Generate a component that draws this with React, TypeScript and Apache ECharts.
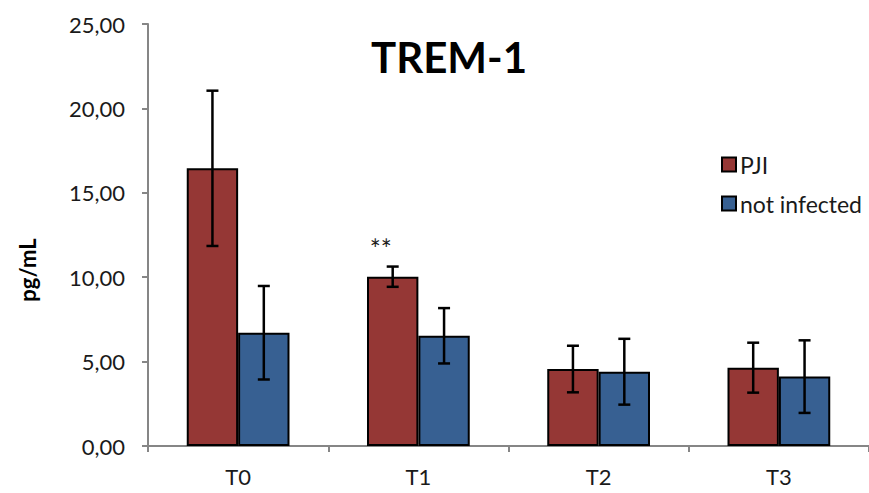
import React, { useEffect, useRef } from "react";
import * as echarts from "echarts";

const categories = ["T0", "T1", "T2", "T3"];
const pjiMean = [16.45, 10.03, 4.56, 4.64];
const pjiSd = [4.6, 0.6, 1.38, 1.48];
const notInfMean = [6.71, 6.53, 4.4, 4.11];
const notInfSd = [2.77, 1.64, 1.95, 2.15];
const significance = ["", "**", "", ""];
const yTicks = [0, 5, 10, 15, 20, 25];

const FONT = "Lato, 'Open Sans', sans-serif";
const RED = "#953735";
const BLUE = "#376092";
const TXT = "#1a1a1a";

export default function App() {
  const ref = useRef<HTMLDivElement>(null);
  useEffect(() => {
    if (!ref.current) return;
    const chart = echarts.init(ref.current, null, { renderer: "svg" });
    const catFrac = 0.43;
    const errData: any[] = [];
    categories.forEach((c, i) => {
      errData.push([i, pjiMean[i], pjiSd[i], 0, significance[i]]);
      errData.push([i, notInfMean[i], notInfSd[i], 1, ""]);
    });
    chart.setOption({
      animation: false,
      title: {
        text: "TREM-1",
        left: 444,
        top: 31,
        textAlign: "center",
        textStyle: { fontFamily: FONT, fontSize: 42, fontWeight: "bold", color: "#000" },
      },
      graphic: [
        {
          type: "text",
          x: 27,
          y: 270,
          rotation: Math.PI / 2,
          style: {
            text: "pg/mL",
            fontFamily: FONT,
            fontSize: 22,
            fontWeight: "bold",
            fill: "#000",
            align: "center",
            verticalAlign: "middle",
          },
        },
      ],
      legend: {
        orient: "vertical",
        left: 716,
        top: 148,
        icon: "rect",
        itemWidth: 14,
        itemHeight: 14,
        itemGap: 16,
        data: ["PJI", "not infected"],
        textStyle: { fontFamily: FONT, fontSize: 23, color: TXT, padding: [0, 0, 0, -1] },
      },
      grid: { left: 148, right: -7, top: 24, bottom: 47, containLabel: false },
      xAxis: {
        type: "category",
        data: categories,
        axisLine: { lineStyle: { color: "#868686", width: 2 } },
        axisTick: { show: true, length: 6, lineStyle: { color: "#868686", width: 2 } },
        axisLabel: { fontFamily: FONT, fontSize: 22, color: TXT, margin: 19 },
      },
      yAxis: {
        type: "value",
        min: yTicks[0],
        max: yTicks[yTicks.length - 1],
        interval: 5,
        axisLine: { show: true, lineStyle: { color: "#868686", width: 2 } },
        axisTick: { show: true, length: 6, lineStyle: { color: "#868686", width: 2 } },
        splitLine: { show: false },
        axisLabel: {
          fontFamily: FONT,
          fontSize: 22,
          color: TXT,
          margin: 23,
          formatter: (v: number) => v.toFixed(2).replace(".", ","),
        },
      },
      series: [
        {
          name: "PJI",
          type: "bar",
          data: pjiMean,
          barGap: "0%",
          barCategoryGap: "43%",
          itemStyle: { color: RED, borderColor: "#000", borderWidth: 2 },
        },
        {
          name: "not infected",
          type: "bar",
          data: notInfMean,
          itemStyle: { color: BLUE, borderColor: "#000", borderWidth: 2 },
        },
        {
          type: "custom",
          data: errData,
          z: 10,
          renderItem: (params: any, api: any) => {
            const idx = api.value(0);
            const mean = api.value(1);
            const sd = api.value(2);
            const s = api.value(3);
            const sig = errData[params.dataIndex][4];
            const band = api.size([1, 0])[0];
            const bw = (band * (1 - catFrac)) / 2;
            const center = api.coord([idx, mean]);
            const x = center[0] + (s === 0 ? -bw / 2 : bw / 2);
            const top = api.coord([idx, mean + sd])[1];
            const bot = api.coord([idx, mean - sd])[1];
            const cap = 6;
            const st = { stroke: "#000", lineWidth: 2.5 };
            const children: any[] = [
              { type: "line", shape: { x1: x, y1: top, x2: x, y2: bot }, style: st },
              { type: "line", shape: { x1: x - cap, y1: top, x2: x + cap, y2: top }, style: st },
              { type: "line", shape: { x1: x - cap, y1: bot, x2: x + cap, y2: bot }, style: st },
            ];
            if (sig) {
              children.push({
                type: "text",
                x: x - 12,
                y: top - 18,
                style: {
                  text: sig,
                  fontFamily: FONT,
                  fontSize: 26,
                  fill: TXT,
                  align: "center",
                  verticalAlign: "middle",
                },
              });
            }
            return { type: "group", children };
          },
        },
      ],
    });
    return () => chart.dispose();
  }, []);
  return <div ref={ref} style={{ width: 869, height: 493, position: "absolute", left: 0, top: 0 }} />;
}
